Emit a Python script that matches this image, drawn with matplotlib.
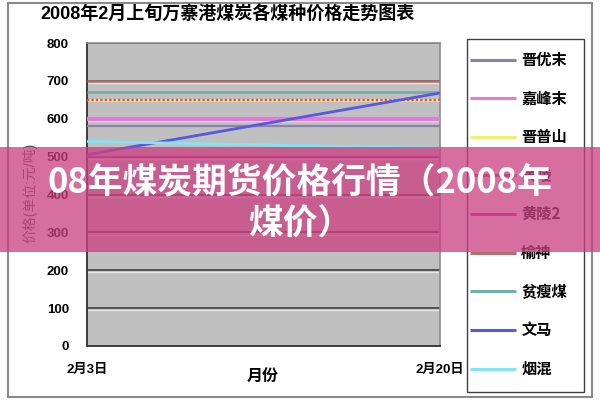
import matplotlib
matplotlib.use("Agg")
import matplotlib.pyplot as plt
from matplotlib.patches import Rectangle
from matplotlib.transforms import ScaledTranslation

plt.rcParams['font.family'] = ['Liberation Sans', 'Noto Sans CJK SC', 'DejaVu Sans']

# ---------------- data ----------------
dates = ["2月3日", "2月20日"]
series_names = ["晋优末", "嘉峰末", "晋普山", "黄陵", "黄陵2", "榆神", "贫瘦煤", "文马", "烟混"]
jinyoumo = [580, 580]
jiafengmo = [600, 600]
jinpushan = [650, 650]
huangling = [650, 650]
huangling2 = [500, 500]
yushen = [700, 700]
pinshoumei = [670, 670]
wenma = [505, 668]
yanhun = [540, 522]
series_values = [jinyoumo, jiafengmo, jinpushan, huangling, huangling2,
                 yushen, pinshoumei, wenma, yanhun]
y_ticks = [0, 100, 200, 300, 400, 500, 600, 700, 800]

title = "2008年2月上旬万寨港煤炭各煤种价格走势图表"
x_label = "月份"
y_label = "价格(单位:元/吨)"
banner_text = "08年煤炭期货价格行情（2008年\n煤价）"

# ---------------- styles ----------------
colors = ["#8a82aa", "#e878e0", "#f2f070", "#e04848", "#a83c88",
          "#b07070", "#72b0a8", "#5858e0", "#82e4f4"]
widths = [1.6, 3.0, 1.8, 1.6, 1.6, 1.8, 2.0, 2.0, 2.0]
styles = ["-", "-", "-", (0, (1, 1)), "-", "-", "-", "-", "-"]

W, H = 600, 400
fig = plt.figure(figsize=(6, 4), dpi=100)
fig.patch.set_facecolor("white")

# outer chart border
fig.add_artist(Rectangle((8 / W, 3 / H), (592 - 8) / W, (397 - 3) / H,
                         transform=fig.transFigure, fill=False,
                         edgecolor="#8a8a8a", lw=1.5))

ax = fig.add_axes([87 / W, 1 - 346 / H, (440 - 87) / W, (346 - 43) / H])
ax.set_facecolor("#c0c0c0")
x = list(range(len(dates)))

ax.set_ylim(0, 800)
ax.set_xlim(0, 1)
ax.set_yticks(y_ticks)
ax.yaxis.grid(True, color="#404040", lw=1.2, zorder=1.5)
ax.set_axisbelow(True)

# light highlight just below each gridline (3D look)
hl_tr = ax.get_yaxis_transform() + ScaledTranslation(0, -1.6 / 72, fig.dpi_scale_trans)
for v in y_ticks[1:-1]:
    ax.plot([0, 1], [v, v], color="#e6e6e6", lw=1.0, transform=hl_tr, zorder=1.4)

handles = []
for name, vals, c, lw, ls in zip(series_names, series_values, colors, widths, styles):
    h, = ax.plot(x, vals, color=c, lw=lw, ls=ls, label=name, zorder=3,
                 solid_capstyle="butt")
    handles.append(h)

ax.set_xticks(x)
ax.set_xticklabels(dates, fontsize=9.5, fontweight="bold")
ax.tick_params(axis="both", length=0)
ax.tick_params(axis="x", pad=13)
ax.tick_params(axis="y", pad=13)
for t in ax.get_yticklabels():
    t.set_fontsize(9.5)
    t.set_fontweight("bold")

for s in ["left", "bottom"]:
    ax.spines[s].set_color("#3c3c3c")
    ax.spines[s].set_linewidth(1.4)
for s in ["top", "right"]:
    ax.spines[s].set_color("#8c8c8c")
    ax.spines[s].set_linewidth(1.2)

fig.text(263 / W, 1 - 376 / H, x_label, ha="center", va="center",
         fontsize=11.5, fontweight="bold")
fig.text(30 / W, 1 - 193 / H, y_label, ha="center", va="center",
         rotation=90, fontsize=10, color="#505050")
fig.text(40 / W, 1 - 15 / H, title, ha="left", va="center",
         fontsize=13, fontweight="bold")

# legend box
fig.add_artist(Rectangle((467 / W, 1 - 392 / H), (584 - 467) / W, (392 - 39) / H,
                         transform=fig.transFigure, fill=False,
                         edgecolor="#404040", lw=1.0))
leg = fig.legend(handles=handles, labels=series_names, loc="upper left",
                 bbox_to_anchor=(470 / W, 1 - 52 / H), frameon=False,
                 prop={"family": ["Noto Sans CJK SC"], "weight": "bold", "size": 11},
                 handlelength=3.0, handletextpad=0.35, labelspacing=1.48,
                 borderpad=0, borderaxespad=0)
for lh in leg.get_lines():
    lh.set_linestyle("-")
    lh.set_linewidth(2.2)

# overlay banner
fig.add_artist(Rectangle((0, 1 - 252 / H), 1, (252 - 147) / H,
                         transform=fig.transFigure, facecolor=(203 / 255, 64 / 255, 130 / 255),
                         alpha=0.76, edgecolor="none", zorder=10))
fig.text(300 / W, 1 - 203 / H, banner_text, ha="center", va="center",
         fontsize=25, fontweight="heavy", color="white", linespacing=1.22,
         family=["Noto Sans CJK SC"], zorder=11)

fig.savefig("out.png", dpi=100)
